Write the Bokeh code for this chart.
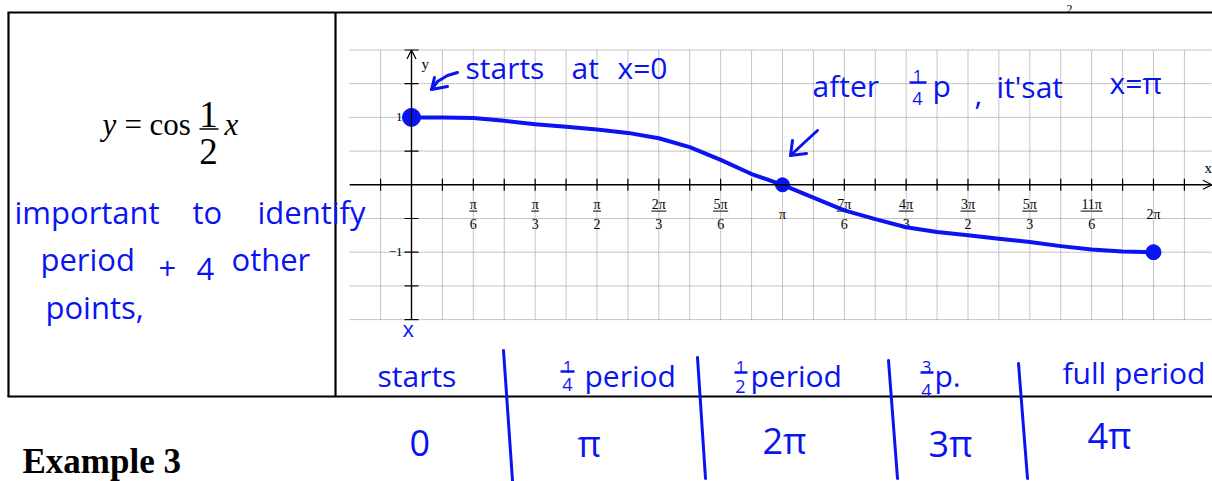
import math
from bokeh.plotting import figure
from bokeh.models import Range1d, Arrow, OpenHead, ColumnDataSource
from bokeh.core.properties import value
from bokeh.embed import file_html
from bokeh.resources import INLINE

PI = math.pi

# sketched curve of y = cos(x/2), sampled every pi/12 from 0 to 2*pi
curve_steps = [0, 1, 2, 3, 4, 5, 6, 7, 8, 9, 10, 11, 12,
               13, 14, 15, 16, 17, 18, 19, 20, 21, 22, 23, 24]
curve_y = [1.00, 1.00, 0.99, 0.95, 0.90, 0.86, 0.82, 0.77, 0.69, 0.56, 0.37, 0.16, 0.00,
           -0.19, -0.38, -0.51, -0.63, -0.70, -0.75, -0.80, -0.85, -0.91, -0.96, -0.99, -1.00]

# marked points: start, quarter period, half of the drawn span
key_steps = [0, 12, 24]
key_y = [1, 0, -1]
key_size = [18, 14, 15]

# x tick labels at multiples of pi/6 (in units of pi/12)
tick_steps = [2, 4, 6, 8, 10, 12, 14, 16, 18, 20, 22, 24]
tick_num = ["π", "π", "π", "2π", "5π", "π", "7π", "4π", "3π", "5π", "11π", "2π"]
tick_den = ["6", "3", "2", "3", "6", "", "6", "3", "2", "3", "6", ""]

y_tick_vals = [1, -1]
y_tick_text = ["1", "\u22121"]
y_minor = [-2, -1.5, -1, -0.5, 0.5, 1, 1.5, 2]

table_head = ["starts", "period", "period", "p.", "full period"]
table_vals = ["0", "π", "2π", "3π", "4π"]

BLUE = "#0a14f0"
GRID = "#8c8c8c"
SERIF = value("Liberation Serif")
HAND = value("Open Sans")

# page geometry: origin of the graph and its pixel scale
ORIGIN_X, ORIGIN_Y = 411.0, 184.3
PX_PER_RAD, PX_PER_UNIT = 118.09, 67.4
W, H = 1212, 481
X0, X1 = -ORIGIN_X / PX_PER_RAD, (W - ORIGIN_X) / PX_PER_RAD
Y1, Y0 = ORIGIN_Y / PX_PER_UNIT, (ORIGIN_Y - H) / PX_PER_UNIT

p = figure(width=W, height=H, x_range=Range1d(X0, X1), y_range=Range1d(Y0, Y1),
           output_backend="svg", toolbar_location=None,
           x_axis_type=None, y_axis_type=None, min_border=0,
           outline_line_color=None, background_fill_color="white",
           border_fill_color="white")
p.extra_x_ranges = {"px": Range1d(0, W)}
p.extra_y_ranges = {"px": Range1d(H, 0)}
PX = dict(x_range_name="px", y_range_name="px", text_baseline="bottom")
PXL = dict(x_range_name="px", y_range_name="px")

# ---- worksheet table ----
p.segment(x0=[7, 8, 335, 7], y0=[12, 12, 12, 396], x1=[W, 8, 335, W], y1=[12, 396, 396, 396],
          line_color="black", line_width=2.2, **PXL)

# equation in the left cell
p.text(x=[102], y=[141], text=["y"], text_font=SERIF, text_font_style="italic",
       text_font_size="31px", text_color="black", **PX)
p.text(x=[124, 149], y=[141, 141], text=["=", "cos"], text_font=SERIF,
       text_font_size="31px", text_color="black", **PX)
p.text(x=[208, 208], y=[126, 163], text=["1", "2"], text_font=SERIF, text_align="center",
       text_font_size="37px", text_color="black", **PX)
p.segment(x0=[199], y0=[128.5], x1=[218], y1=[128.5], line_color="black", line_width=1.5, **PXL)
p.text(x=[224], y=[141], text=["x"], text_font=SERIF, text_font_style="italic",
       text_font_size="31px", text_color="black", **PX)

p.text(x=[22], y=[480], text=["Example 3"], text_font=SERIF, text_font_style="bold",
       text_font_size="35px", text_color="black", **PX)
p.text(x=[1066], y=[12], text=["2"], text_font=SERIF, text_font_size="12px",
       text_color="black", **PX)

# ---- graph grid ----
vx = [k * PI / 12 for k in range(-1, 26) if k != 0]
p.segment(x0=vx, y0=-2, x1=vx, y1=2, line_color=GRID, line_width=1, line_dash="1 1")
p.segment(x0=-PI / 6, y0=y_minor, x1=X1, y1=y_minor, line_color=GRID, line_width=1, line_dash="1 1")

# axes with arrow heads
p.add_layout(Arrow(end=OpenHead(size=9, line_width=1.2, line_color="black"),
                   x_start=0, y_start=-2, x_end=0, y_end=2.0,
                   line_color="black", line_width=1.4))
p.add_layout(Arrow(end=OpenHead(size=9, line_width=1.2, line_color="black"),
                   x_start=-PI / 6, y_start=0, x_end=X1 - 0.005, y_end=0,
                   line_color="black", line_width=1.4))

# tick marks
p.scatter(x=0, y=y_minor, marker="dash", size=14, line_color="black", line_width=1.2)
xt = [k * PI / 12 for k in range(-1, 26) if k != 0]
p.scatter(x=xt, y=0, marker="dash", angle=PI / 2, size=12, line_color="black", line_width=1.2)

# y tick labels
p.text(x=0, y=y_tick_vals, text=y_tick_text, x_offset=-9, text_align="right",
       text_baseline="middle", text_font=SERIF, text_font_size="13px", text_color="black")

# x tick labels, stacked fractions
frac_x = [s * PI / 12 for s, d in zip(tick_steps, tick_den) if d]
frac_n = [n for n, d in zip(tick_num, tick_den) if d]
frac_d = [d for d in tick_den if d]
frac_w = [{1: 8, 2: 15, 3: 22}[len(n)] for n in frac_n]
p.text(x=frac_x, y=-0.29, text=frac_n, text_align="center", text_baseline="middle",
       text_font=SERIF, text_font_size="14px", text_color="black")
p.text(x=frac_x, y=-0.58, text=frac_d, text_align="center", text_baseline="middle",
       text_font=SERIF, text_font_size="14px", text_color="black")
p.scatter(x=frac_x, y=-0.39, marker="dash", size=frac_w, line_color="black", line_width=1)
single_x = [s * PI / 12 for s, d in zip(tick_steps, tick_den) if not d]
single_t = [n for n, d in zip(tick_num, tick_den) if not d]
p.text(x=single_x, y=-0.44, text=single_t, text_align="center", text_baseline="middle",
       text_font=SERIF, text_font_size="14px", text_color="black")

p.text(x=[421, 1204], y=[71, 175], text=["y", "x"], text_font=SERIF,
       text_font_size="15px", text_color="black", **PX)

# ---- sketched curve and key points ----
curve_x = [s * PI / 12 for s in curve_steps]
p.line(curve_x, curve_y, line_color=BLUE, line_width=4, line_cap="round", line_join="round")
key_x = [s * PI / 12 for s in key_steps]
p.scatter(key_x, key_y, size=key_size, color=BLUE)

# ---- pen notes ----
notes = ColumnDataSource(dict(
    x=[465, 571, 617, 812, 932, 974, 996, 1109,
       14, 192, 257, 40, 158, 196, 231, 45, 402,
       377, 584, 750, 934, 1062,
       409, 577, 762, 928, 1087],
    y=[87, 87, 87, 105, 105, 104, 106, 102,
       232, 232, 232, 279, 279, 279, 279, 327, 342,
       395, 395, 395, 395, 392,
       455, 467, 464, 467, 459],
    text=["starts", "at", "x=0", "after", "p", ",", "it'sat", "x=π",
          "important", "to", "identify", "period", "+", "4", "other", "points,", "x"]
         + table_head + table_vals,
    size=["30px"] * 8 + ["31px"] * 8 + ["22px"] + ["30px"] * 5 + ["36px"] * 5,
))
p.text(x="x", y="y", text="text", text_font_size="size", source=notes,
       text_font=HAND, text_color=BLUE, **PX)

# small handwritten fractions (1/4 p, 1/2, 3/4)
p.text(x=[917, 567, 740, 926], y=[81, 372, 372, 372], text=["1", "1", "1", "3"],
       text_align="center", text_font=HAND, text_font_size="17px", text_color=BLUE, **PX)
p.text(x=[917, 567, 740, 926], y=[104, 390, 392, 396], text=["4", "4", "2", "4"],
       text_align="center", text_font=HAND, text_font_size="18px", text_color=BLUE, **PX)
p.segment(x0=[909, 560, 734, 920], y0=[82, 371, 372, 372], x1=[926, 574, 747, 933],
          y1=[82, 371, 372, 372], line_color=BLUE, line_width=2.5, **PXL)

# arrows and column separators drawn by pen
p.multi_line(
    xs=[[457, 447, 437, 431], [447, 431, 434], [817, 805, 790], [806, 790, 792],
        [503, 512], [697, 705], [888, 897], [1018, 1027]],
    ys=[[72, 75, 81, 89], [86, 89, 77], [130, 141, 155], [153, 155, 140],
        [350, 480], [357, 478], [360, 478], [363, 478]],
    line_color=BLUE, line_width=3, line_cap="round", line_join="round", **PXL)

open("out.html", "w").write(file_html(p, INLINE))
